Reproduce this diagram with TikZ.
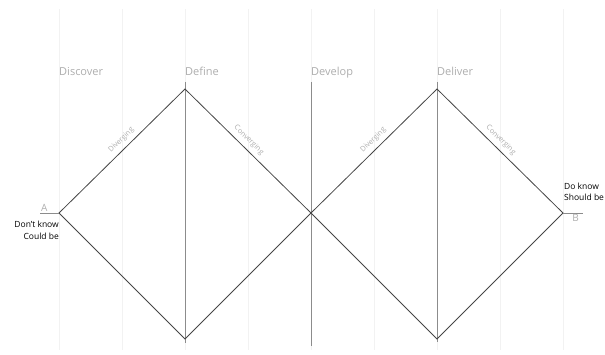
\documentclass[tikz,border=0pt]{standalone}
\usepackage{fontspec}
\setmainfont{Open Sans}
\usetikzlibrary{calc}
\definecolor{GridClr}{rgb}{0.95,0.95,0.95}
\definecolor{AxisClr}{rgb}{0.55,0.55,0.55}
\definecolor{ShapeClr}{rgb}{0.27,0.27,0.27}
\definecolor{PhaseClr}{rgb}{0.68,0.68,0.68}

\begin{document}
\begin{tikzpicture}[x=1pt,y=-1pt,
  grid line/.style={line width=0.6pt,color=GridClr},
  axis line/.style={line width=0.6pt,color=AxisClr},
  shape line/.style={line width=0.8pt,color=ShapeClr},
  phase/.style={anchor=base west,inner sep=0pt,text=PhaseClr,font=\fontsize{11}{13}\selectfont},
  edge label/.style={sloped,above=4.5pt,inner sep=0pt,text=PhaseClr,font=\fontsize{7.3}{8}\selectfont},
  end label/.style={inner sep=1pt,text=PhaseClr,font=\fontsize{10}{12}\selectfont},
  state/.style={inner sep=0pt,font=\fontsize{8.5}{11.5}\selectfont}]
\useasboundingbox (0,0) rectangle (605,355);

\foreach \i in {0,...,8}
  \draw[grid line] (59+63*\i,9) -- (59+63*\i,350);

\coordinate (A) at (59,213);
\coordinate (T1) at (185,89);
\coordinate (D1) at (185,339);
\coordinate (M) at (311,213);
\coordinate (T2) at (437,89);
\coordinate (D2) at (437,339);
\coordinate (B) at (563,213);
\coordinate (A0) at (40,213);
\coordinate (B0) at (583,213);

\draw[axis line] (185,82) -- (185,343);
\draw[axis line] (311,82) -- (311,346);
\draw[axis line] (437,82) -- (437,342);

\draw[shape line] (A) -- (T1) -- (M) -- (T2) -- (B) -- (D2) -- (M) -- (D1) -- cycle;
\draw[axis line] (A0) -- (A);
\draw[axis line] (B) -- (B0);

\node[phase] (discover) at (59,76) {Discover};
\node[phase] (define) at (185,76) {Define};
\node[phase] (develop) at (311,76) {Develop};
\node[phase] (deliver) at (437,76) {Deliver};

\path (A) -- (T1) node[edge label,pos=0.54] (div1) {Diverging};
\path (T1) -- (M) node[edge label,pos=0.46] (conv1) {Converging};
\path (M) -- (T2) node[edge label,pos=0.54] (div2) {Diverging};
\path (T2) -- (B) node[edge label,pos=0.46] (conv2) {Converging};

\node[end label,anchor=south west] (lblA) at (A0) {A};
\node[end label,anchor=north east] (lblB) at ($(B0)+(-3,0)$) {B};

\node[state,align=right,anchor=north east] (dontknow) at (59,221) {Don't know\\Could be};
\node[state,align=left,anchor=south west] (doknow) at (564,201) {Do know\\Should be};

\end{tikzpicture}
\end{document}
